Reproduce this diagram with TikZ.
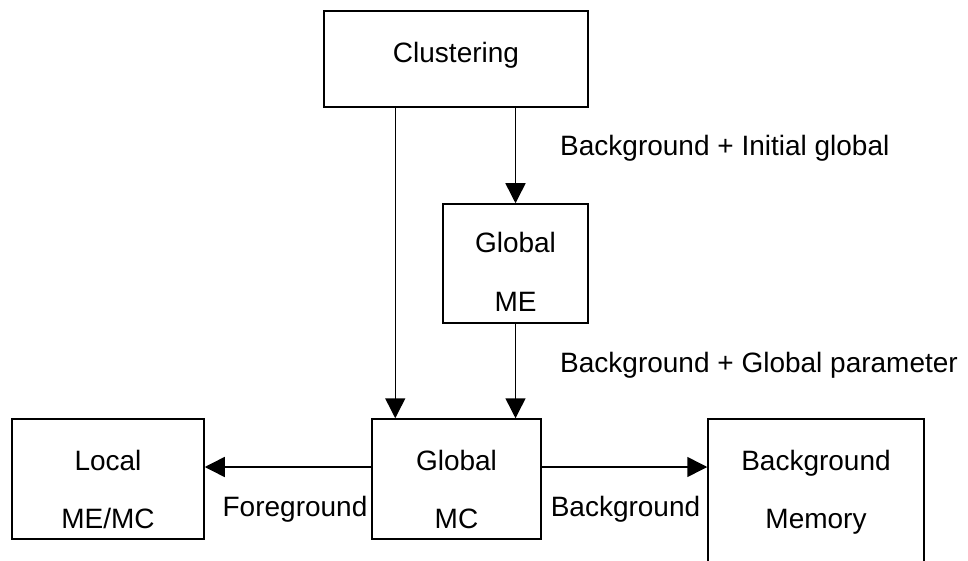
\documentclass[tikz,border=0pt]{standalone}
\usepackage{fontspec}
\setmainfont{Liberation Sans}
\usetikzlibrary{arrows.meta,calc}
\begin{document}
\begin{tikzpicture}[x=1pt,y=1pt,
  blk/.style={draw,line width=1.5pt,rectangle,inner sep=0pt},
  txt/.style={anchor=base,inner sep=0pt,font=\fontsize{28}{34}\selectfont},
  ltxt/.style={anchor=base west,inner sep=0pt,font=\fontsize{28}{34}\selectfont},
  arr/.style={line width=1.5pt,-{Triangle[length=20pt,width=20pt]}}]
\useasboundingbox (0,0) rectangle (968,560);
\clip (0,0) rectangle (968,560);
% blocks
\node[blk,minimum width=264pt,minimum height=96pt] (clu) at (456,501) {};
\node[blk,minimum width=145pt,minimum height=119pt] (me) at (515.5,296.5) {};
\node[blk,minimum width=169pt,minimum height=120pt] (mc) at (456.5,81) {};
\node[blk,minimum width=192pt,minimum height=120pt] (loc) at (108,81) {};
\node[blk,minimum width=216pt,minimum height=181pt] (bm) at (816,50.5) {};
% block texts
\node[txt] (tclu) at (456,497) {Clustering};
\node[txt] (tme1) at (515.5,307) {Global};
\node[txt] (tme2) at (515.5,248) {ME};
\node[txt] (tmc1) at (456.5,90) {Global};
\node[txt] (tmc2) at (456.5,32) {MC};
\node[txt] (tloc1) at (108,90) {Local};
\node[txt] (tloc2) at (108,32) {ME/MC};
\node[txt] (tbm1) at (816,90) {Background};
\node[txt] (tbm2) at (816,32) {Memory};
% connectors
\coordinate (inA) at ([xshift=24pt]mc.north west);
\draw[arr] (inA |- clu.south) -- (inA);
\draw[arr] (clu.south -| me.north) -- (me.north);
\draw[arr] (me.south) -- (me.south |- mc.north);
\coordinate (hl) at ([yshift=12pt]mc.west);
\coordinate (hr) at ([yshift=12pt]mc.east);
\draw[arr] (hl) -- (hl -| loc.east);
\draw[arr] (hr) -- (hr -| bm.west);
% connector labels
\node[ltxt] (l1) at (560,404) {Background + Initial global};
\node[ltxt] (l2) at (560,188) {Background + Global parameter};
\node[txt] (l3) at (295,44) {Foreground};
\node[txt] (l4) at (625.5,44) {Background};
\end{tikzpicture}
\end{document}
